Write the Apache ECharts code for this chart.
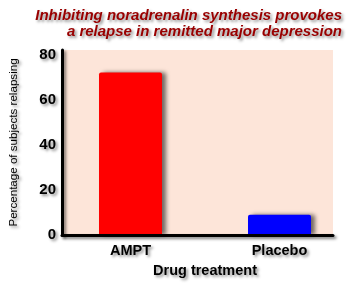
<!DOCTYPE html>
<html><head><meta charset="utf-8">
<script src="https://cdn.jsdelivr.net/npm/echarts@6/dist/echarts.min.js"></script>
<style>html,body{margin:0;padding:0;background:#fff}#c{width:354px;height:287px}</style>
</head><body><div id="c"></div>
<script>
const categories = ['AMPT', 'Placebo'];
const relapsePct = [72, 9];
const barColors = ['#ff0000', '#0000ff'];
const yTicks = [0, 20, 40, 60, 80];
const titleLines = ['Inhibiting noradrenalin synthesis provokes', 'a relapse in remitted major depression'];

const shadow = {textShadowColor: 'rgba(0,0,0,0.45)', textShadowBlur: 3, textShadowOffsetX: 2, textShadowOffsetY: 2};
const titleStyle = Object.assign({color: '#990000', fontFamily: 'Liberation Sans', fontSize: 15, fontWeight: 'bold', fontStyle: 'italic'}, shadow);
const chart = echarts.init(document.getElementById('c'), null, {renderer: 'canvas'});
chart.setOption({
  animation: false,
  title: titleLines.map((t, i) => ({text: t, right: 12, top: 8 + i * 16, padding: 0, textStyle: titleStyle})),
  grid: [
    {left: 56, right: 21, top: 50, bottom: 52, show: true, backgroundColor: '#fde5d9', borderWidth: 0, z: 0},
    {left: 56, width: 300, top: 50, bottom: 52}
  ],
  xAxis: [
    {gridIndex: 0, type: 'category', data: categories, axisLabel: {show: false}, axisTick: {show: false},
     axisLine: {lineStyle: {color: '#000', width: 3, shadowColor: 'rgba(0,0,0,0.5)', shadowBlur: 3, shadowOffsetY: 2, shadowOffsetX: 2}}, z: 5},
    {gridIndex: 1, type: 'category', data: categories, axisLine: {show: false}, axisTick: {show: false},
     axisLabel: Object.assign({color: '#000', fontFamily: 'Liberation Sans', fontWeight: 'bold', fontSize: 14.5, margin: 8}, shadow),
     name: 'Drug treatment', nameLocation: 'middle', nameGap: 28,
     nameTextStyle: Object.assign({color: '#000', fontFamily: 'Liberation Sans', fontWeight: 'bold', fontSize: 14.5}, shadow)}
  ],
  yAxis: [
    {gridIndex: 0, type: 'value', min: 0, max: 82, interval: 20,
     axisLine: {show: true, lineStyle: {color: '#000', width: 3, shadowColor: 'rgba(0,0,0,0.5)', shadowBlur: 3, shadowOffsetX: 2, shadowOffsetY: 2}},
     axisTick: {show: false}, splitLine: {show: false},
     axisLabel: Object.assign({color: '#000', fontFamily: 'Liberation Sans', fontWeight: 'bold', fontSize: 15, margin: 6,
       formatter: v => yTicks.includes(v) ? String(v) : ''}, shadow),
     name: 'Percentage of subjects relapsing', nameLocation: 'middle', nameGap: 42, nameRotate: 90,
     nameTextStyle: Object.assign({color: '#000', fontFamily: 'Liberation Sans', fontSize: 11.6}, shadow), z: 5},
    {gridIndex: 1, type: 'value', min: 0, max: 82, show: false}
  ],
  series: [{
    type: 'bar', xAxisIndex: 1, yAxisIndex: 1, barWidth: 63,
    data: relapsePct.map((v, i) => ({value: v, itemStyle: {color: barColors[i]}})),
    itemStyle: {borderRadius: [2, 2, 0, 0], shadowColor: 'rgba(0,0,0,0.55)', shadowBlur: 4, shadowOffsetX: 4, shadowOffsetY: 0}
  }]
});
</script></body></html>
